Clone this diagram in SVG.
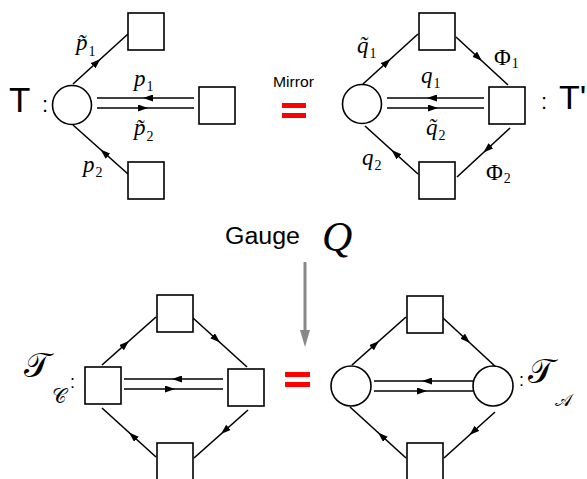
<svg xmlns="http://www.w3.org/2000/svg" width="587" height="479" viewBox="0 0 587 479">
<style>
.nd{fill:#fff;stroke:#000;stroke-width:1.6}
.ln{fill:none;stroke:#000;stroke-width:1.6;marker-mid:url(#ah)}
.sans{font-family:"Liberation Sans",Arial,sans-serif;fill:#000}
.mi{font-family:"Liberation Serif","Times New Roman",serif;font-style:italic;font-size:23px;fill:#000}
.mu{font-family:"Liberation Serif","Times New Roman",serif;font-size:23px;fill:#000}
.sub{font-family:"Liberation Serif","Times New Roman",serif;font-size:14px;font-style:normal;fill:#000}
.cal{font-family:"DejaVu Serif","Liberation Serif",serif;fill:#000}
.red{fill:#ff0000}
</style>
<defs>
<marker id="ah" markerUnits="userSpaceOnUse" markerWidth="11" markerHeight="7" refX="10" refY="3.5" orient="auto">
<path d="M0,0 L10,3.5 L0,7 z" fill="#000"/>
</marker>
</defs>

<g id="connectors">
<path class="ln" d="M73,84 L100.5,59 L128,34"/>
<path class="ln" d="M194,98 L143,98 L97,98"/>
<path class="ln" d="M97,108 L148,108 L194,108"/>
<path class="ln" d="M128,174 L100.5,149.5 L73,125"/>
<path class="ln" d="M363,84 L390.5,59 L418,34"/>
<path class="ln" d="M456,37 L482,61 L508,85"/>
<path class="ln" d="M510,128 L483.5,152.5 L457,177"/>
<path class="ln" d="M418,174 L391.5,150 L365,126"/>
<path class="ln" d="M484,98 L427,98 L387,98"/>
<path class="ln" d="M387,108 L438,108 L484,108"/>
<path class="ln" d="M102,365 L129,341 L156,317"/>
<path class="ln" d="M193,318 L220,342.5 L247,367"/>
<path class="ln" d="M248,410 L221,434 L194,458"/>
<path class="ln" d="M156,457 L129,432.5 L102,408"/>
<path class="ln" d="M223,379 L172,379 L124,379"/>
<path class="ln" d="M124,389 L175,389 L223,389"/>
<path class="ln" d="M352,365 L379,341 L406,317"/>
<path class="ln" d="M443,318 L470,343 L497,368"/>
<path class="ln" d="M495,412 L469.5,435 L444,458"/>
<path class="ln" d="M406,458 L378,432.5 L350,407"/>
<path class="ln" d="M473,381 L422,381 L374,381"/>
<path class="ln" d="M374,391 L427,391 L473,391"/>
<line x1="305" y1="262" x2="305" y2="332" stroke="#888" stroke-width="3"/>
<polygon points="300,330 310,330 305,347" fill="#888"/>
</g>

<g id="T-label"><text class="sans" x="9" y="112" font-size="35">T</text><text class="sans" x="42" y="112" font-size="22">:</text></g>
<g id="tl-circle"><circle class="nd" cx="72" cy="105" r="19.5"/></g>
<g id="tl-top"><rect class="nd" x="128" y="13" width="36" height="37"/></g>
<g id="tl-right"><rect class="nd" x="199" y="87" width="36" height="37"/></g>
<g id="tl-bottom"><rect class="nd" x="128" y="162" width="36" height="37"/></g>
<g id="tl-labels">
<text class="mi" x="76" y="50">p̃<tspan class="sub" dx="1" dy="6">1</tspan></text>
<text class="mi" x="134" y="86">p<tspan class="sub" dx="1" dy="5">1</tspan></text>
<text class="mi" x="134" y="135">p̃<tspan class="sub" dx="1" dy="6">2</tspan></text>
<text class="mi" x="83" y="172">p<tspan class="sub" dx="1" dy="5">2</tspan></text>
</g>

<g id="mirror">
<text class="sans" x="273" y="87" font-size="15" textLength="41" lengthAdjust="spacingAndGlyphs">Mirror</text>
<rect class="red" x="282" y="103" width="24" height="5"/><rect class="red" x="282" y="113" width="24" height="5"/>
</g>

<g id="tr-circle"><circle class="nd" cx="362" cy="104" r="19.5"/></g>
<g id="tr-top"><rect class="nd" x="419" y="13" width="36" height="37"/></g>
<g id="tr-right"><rect class="nd" x="489" y="87" width="36" height="37"/></g>
<g id="tr-bottom"><rect class="nd" x="419" y="162" width="36" height="37"/></g>
<g id="tr-labels">
<text class="mi" x="357" y="53">q̃<tspan class="sub" dx="1" dy="5">1</tspan></text>
<text class="mi" x="421" y="83">q<tspan class="sub" dx="1" dy="5">1</tspan></text>
<text class="mi" x="426" y="135">q̃<tspan class="sub" dx="1" dy="5">2</tspan></text>
<text class="mi" x="362" y="165">q<tspan class="sub" dx="1" dy="5">2</tspan></text>
<text class="mu" x="494" y="65">Φ<tspan class="sub" dx="1" dy="3">1</tspan></text>
<text class="mu" x="486" y="180">Φ<tspan class="sub" dx="1" dy="3">2</tspan></text>
</g>
<g id="Tprime-label"><text class="sans" x="541" y="109" font-size="22">:</text><text class="sans" x="559" y="109" font-size="34">T'</text></g>

<g id="gauge">
<text class="sans" x="225" y="244" font-size="23" textLength="75" lengthAdjust="spacingAndGlyphs">Gauge</text>
<text class="mi" x="322" y="251" style="font-size:42px">Q</text>
</g>

<g id="Tc-label"><text class="cal" x="24" y="377" font-size="34">𝒯</text><text class="cal" x="52" y="403" font-size="20">𝒞</text><text class="sans" x="70" y="388" font-size="18">:</text></g>
<g id="bl-top"><rect class="nd" x="157" y="295" width="36" height="37"/></g>
<g id="bl-left"><rect class="nd" x="85" y="367" width="36" height="37"/></g>
<g id="bl-right"><rect class="nd" x="228" y="369" width="36" height="37"/></g>
<g id="bl-bottom"><rect class="nd" x="157" y="443" width="36" height="40"/></g>

<g id="equals"><rect class="red" x="285" y="372" width="25" height="5"/><rect class="red" x="285" y="382" width="25" height="5"/></g>

<g id="br-top"><rect class="nd" x="407" y="296" width="36" height="37"/></g>
<g id="br-left"><circle class="nd" cx="351" cy="386" r="20"/></g>
<g id="br-right"><circle class="nd" cx="493" cy="386" r="20"/></g>
<g id="br-bottom"><rect class="nd" x="407" y="443" width="36" height="40"/></g>
<g id="TA-label"><text class="sans" x="519" y="386" font-size="18">:</text><text class="cal" x="528" y="383" font-size="34">𝒯</text><text class="cal" x="555" y="406" font-size="18">𝒜</text></g>
</svg>
